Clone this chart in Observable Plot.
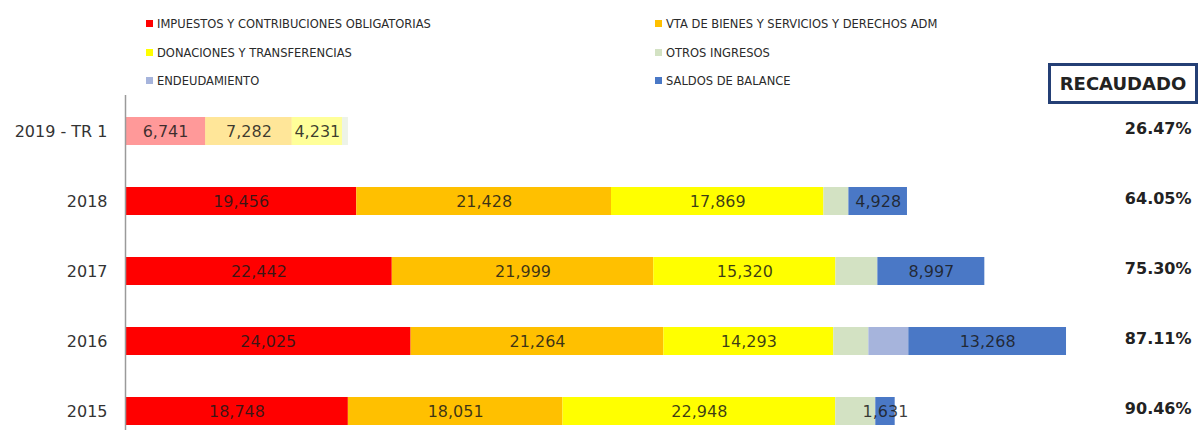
<!DOCTYPE html>
<html>
<head>
<meta charset="utf-8">
<script src="https://cdn.jsdelivr.net/npm/d3@7"></script>
<script src="https://cdn.jsdelivr.net/npm/@observablehq/plot@0.6"></script>
<style>
  html, body { margin: 0; padding: 0; background: #fff; overflow: hidden; }
  #wrap { position: relative; width: 1200px; height: 430px; font-family: "DejaVu Sans", sans-serif; }
  #legend { position: relative; height: 95px; }
  .li { position: absolute; font-size: 11.5px; color: #2a2a2a; line-height: 14px; white-space: nowrap; }
  .sw { display: inline-block; width: 7px; height: 7px; margin-right: 4px; vertical-align: 1px; }
  #reca { position: absolute; left: 1048px; top: 63px; width: 144px; height: 35px; border: 3px solid #243f75;
          font-weight: bold; font-size: 18px; color: #222; text-align: center; line-height: 35px; background: #fff; }
</style>
</head>
<body>
<div id="wrap">
  <div id="legend"></div>
  <div id="reca">RECAUDADO</div>
  <div id="chart"></div>
</div>
<script>
const years = ["2019 - TR 1", "2018", "2017", "2016", "2015"];
const impuestos  = [6741, 19456, 22442, 24025, 18748];
const ventas     = [7282, 21428, 21999, 21264, 18051];
const donaciones = [4231, 17869, 15320, 14293, 22948];
const otros      = [500, 2100, 3530, 2950, 3370];
const endeud     = [0, 0, 0, 3360, 0];
const saldos     = [0, 4928, 8997, 13268, 1631];
const recaudado  = ["26.47%", "64.05%", "75.30%", "87.11%", "90.46%"];

const seriesNames = [
  "IMPUESTOS Y CONTRIBUCIONES OBLIGATORIAS",
  "VTA DE BIENES Y SERVICIOS Y DERECHOS ADM",
  "DONACIONES Y TRANSFERENCIAS",
  "OTROS INGRESOS",
  "ENDEUDAMIENTO",
  "SALDOS DE BALANCE"
];
const seriesValues = [impuestos, ventas, donaciones, otros, endeud, saldos];
const seriesColors = ["#ff0000", "#ffc000", "#ffff00", "#d3e2c3", "#a6b4dc", "#4a78c6"];
const seriesLabeled = [true, true, true, false, false, true];

// legend (HTML, above the SVG)
const legendPos = [[146, 17], [655, 17], [146, 46], [655, 46], [146, 74], [655, 74]];
const legend = document.getElementById("legend");
seriesNames.forEach((name, i) => {
  const el = document.createElement("div");
  el.className = "li";
  el.style.left = legendPos[i][0] + "px";
  el.style.top = legendPos[i][1] + "px";
  el.innerHTML = `<span class="sw" style="background:${seriesColors[i]}"></span>${name}`;
  legend.appendChild(el);
});

const rows = [];
years.forEach((y, yi) => {
  seriesNames.forEach((s, si) => {
    rows.push({year: y, series: s, value: seriesValues[si][yi], labeled: seriesLabeled[si] && seriesValues[si][yi] > 0});
  });
});
const fmt = d3.format(",");

const chart = Plot.plot({
  width: 1200,
  height: 351,
  marginLeft: 125,
  marginRight: 124,
  marginTop: 0,
  marginBottom: 0,
  style: {fontFamily: "DejaVu Sans, sans-serif", background: "transparent", overflow: "visible"},
  x: {domain: [0, 80000], axis: null},
  y: {domain: years, paddingInner: 0.6, paddingOuter: 0.3, label: null, tickSize: 0, tickPadding: 18, fontSize: 16},
  color: {domain: seriesNames, range: seriesColors},
  marks: [
    Plot.barX(rows, Plot.stackX({
      x: "value", y: "year", fill: "series", order: seriesNames,
      fillOpacity: d => d.year === years[0] ? 0.4 : 1
    })),
    Plot.textX(rows, Plot.stackX({
      x: "value", y: "year", z: "series", order: seriesNames,
      text: d => d.labeled ? fmt(d.value) : null,
      fontSize: 16, fill: "#1a1a1a", fillOpacity: 0.85
    })),
    Plot.text(years, {
      y: d => d, text: (d, i) => recaudado[i],
      frameAnchor: "right", textAnchor: "end", dx: 115, dy: -3,
      fontSize: 16, fontWeight: "bold", fill: "#222"
    }),
    Plot.axisY({tickSize: 0, tickPadding: 18, fontSize: 16, color: "#333", label: null}),
    Plot.ruleX([0], {stroke: "#9a9a9a", strokeWidth: 1.5})
  ]
});
document.getElementById("chart").appendChild(chart);
</script>
</body>
</html>
